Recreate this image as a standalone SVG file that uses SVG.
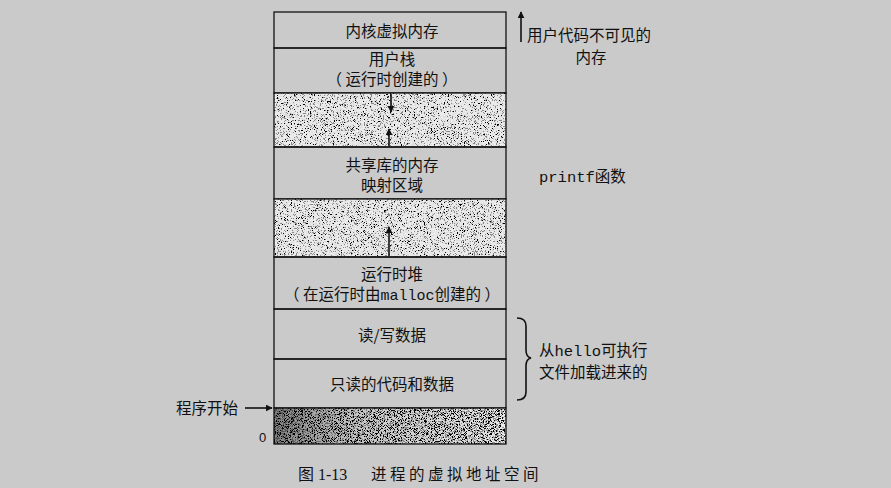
<svg xmlns="http://www.w3.org/2000/svg" width="891" height="488" viewBox="0 0 891 488">
<style>
.cn{font-family:"Noto Sans CJK SC","Noto Sans",sans-serif;font-size:15.5px;fill:#111;}
.mono{font-family:"Liberation Mono","Noto Sans CJK SC",monospace;}
.row{fill:none;stroke:#111;stroke-width:1.3;}
.ln{stroke:#111;stroke-width:1.6;fill:none;}
</style>
<defs>
<filter id="speckle" x="0" y="0" width="100%" height="100%">
<feTurbulence type="fractalNoise" baseFrequency="1.3" numOctaves="3" seed="4"/>
<feColorMatrix type="matrix" values="1 0 0 0 0 1 0 0 0 0 1 0 0 0 0 0 0 0 0 1"/>
<feComponentTransfer>
<feFuncR type="discrete" tableValues="0 0 0 0.25 0.74 0.82 0.86 0.86 0.86 0.86"/>
<feFuncG type="discrete" tableValues="0 0 0 0.25 0.74 0.82 0.86 0.86 0.86 0.86"/>
<feFuncB type="discrete" tableValues="0 0 0 0.25 0.74 0.82 0.86 0.86 0.86 0.86"/>
</feComponentTransfer>
<feComposite in2="SourceGraphic" operator="in"/>
</filter>
<filter id="speckleDark" x="0" y="0" width="100%" height="100%">
<feTurbulence type="fractalNoise" baseFrequency="1.3" numOctaves="3" seed="9"/>
<feColorMatrix type="matrix" values="1 0 0 0 0 1 0 0 0 0 1 0 0 0 0 0 0 0 0 1"/>
<feComponentTransfer>
<feFuncR type="discrete" tableValues="0 0 0 0 0.3 0.78 0.85 0.86 0.86 0.86"/>
<feFuncG type="discrete" tableValues="0 0 0 0 0.3 0.78 0.85 0.86 0.86 0.86"/>
<feFuncB type="discrete" tableValues="0 0 0 0 0.3 0.78 0.85 0.86 0.86 0.86"/>
</feComponentTransfer>
<feComposite in2="SourceGraphic" operator="in"/>
</filter>
<linearGradient id="shade" x1="0" y1="0" x2="1" y2="0">
<stop offset="0" stop-color="#000" stop-opacity="0.45"/>
<stop offset="0.35" stop-color="#000" stop-opacity="0.15"/>
<stop offset="1" stop-color="#000" stop-opacity="0"/>
</linearGradient>
<marker id="ah" viewBox="0 0 10 10" refX="9" refY="5" markerWidth="7" markerHeight="7" orient="auto" markerUnits="userSpaceOnUse">
<path d="M0,0 L10,5 L0,10 z" fill="#111"/>
</marker>
</defs>
<rect width="891" height="488" fill="#cacaca"/>

<g id="kernel">
<rect class="row" x="274" y="12" width="232" height="36"/>
<text class="cn" x="392" y="37" text-anchor="middle">内核虚拟内存</text>
</g>
<g id="user-stack">
<rect class="row" x="274" y="48" width="232" height="45"/>
<text class="cn" x="392" y="65" text-anchor="middle">用户栈</text>
<text class="cn" x="392" y="85" text-anchor="middle">（ 运行时创建的 ）</text>
</g>
<g id="gap1">
<rect x="274" y="93" width="232" height="54" fill="#fff" filter="url(#speckle)"/>
<rect class="row" x="274" y="93" width="232" height="54" stroke-width="2"/>
</g>
<g id="shared-lib">
<rect class="row" x="274" y="147" width="232" height="52"/>
<text class="cn" x="392" y="171" text-anchor="middle">共享库的内存</text>
<text class="cn" x="392" y="191" text-anchor="middle">映射区域</text>
</g>
<g id="gap2">
<rect x="274" y="199" width="232" height="58" fill="#fff" filter="url(#speckle)"/>
<rect class="row" x="274" y="199" width="232" height="58" stroke-width="2"/>
</g>
<g id="heap">
<rect class="row" x="274" y="257" width="232" height="52"/>
<text class="cn" x="392" y="280" text-anchor="middle">运行时堆</text>
<text class="cn" x="392" y="300" text-anchor="middle">（ 在运行时由<tspan class="mono" font-size="15">malloc</tspan>创建的 ）</text>
</g>
<g id="rw-data">
<rect class="row" x="274" y="309" width="232" height="50"/>
<text class="cn" x="392" y="341" text-anchor="middle">读/写数据</text>
</g>
<g id="ro-code">
<rect class="row" x="274" y="359" width="232" height="49"/>
<text class="cn" x="392" y="390" text-anchor="middle">只读的代码和数据</text>
</g>
<g id="bottom-gap">
<rect x="274" y="408" width="232" height="36" fill="#fff" filter="url(#speckleDark)"/>
<rect x="274" y="408" width="232" height="36" fill="url(#shade)"/>
<rect class="row" x="274" y="408" width="232" height="36" stroke-width="2"/>
</g>

<g id="connectors">
<line class="ln" x1="391" y1="94" x2="391" y2="112" marker-end="url(#ah)"/>
<line class="ln" x1="389" y1="146" x2="389" y2="129" marker-end="url(#ah)"/>
<line class="ln" x1="389" y1="256" x2="389" y2="227" marker-end="url(#ah)"/>
<line class="ln" x1="521" y1="42" x2="521" y2="12" marker-end="url(#ah)"/>
<line class="ln" x1="245" y1="408" x2="272" y2="408" marker-end="url(#ah)"/>
<path class="ln" stroke-width="1.3" d="M517,318 Q526,318 526,326 L526,350 Q526,357 531,358 Q526,359 526,366 L526,392 Q526,400 517,400"/>
</g>

<g id="labels">
<text class="cn" x="527" y="41" font-size="16">用户代码不可见的</text>
<text class="cn" x="591" y="63" font-size="16" text-anchor="middle">内存</text>
<text class="cn" x="539" y="182" font-size="16"><tspan class="mono">printf</tspan>函数</text>
<text class="cn" x="539" y="356" font-size="16">从<tspan class="mono">hello</tspan>可执行</text>
<text class="cn" x="539" y="378" font-size="16">文件加载进来的</text>
<text class="cn" x="176" y="414" font-size="16">程序开始</text>
<text x="259" y="442" font-family="Liberation Sans, sans-serif" font-size="13" fill="#111">0</text>
<text x="298" y="480" font-family="'Liberation Serif','Noto Sans CJK SC',serif" font-size="16" fill="#111">图 1-13</text>
<text x="371" y="480" class="cn" font-size="16" letter-spacing="3.5">进程的虚拟地址空间</text>
</g>
</svg>
